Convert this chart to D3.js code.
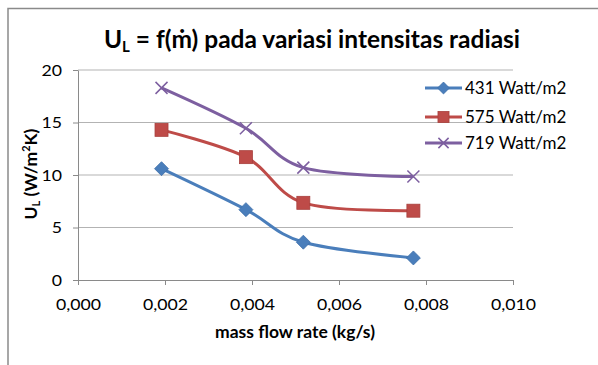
<!DOCTYPE html>
<html><head><meta charset="utf-8">
<script src="https://cdn.jsdelivr.net/npm/d3@7"></script>
<style>body{margin:0;background:#fff}svg{display:block}</style>
</head><body>
<svg id="c" width="598" height="365"></svg>
<script>
const massFlow = [0.00192, 0.00386, 0.00518, 0.00771];
const series431 = [10.6, 6.7, 3.6, 2.1];
const series575 = [14.3, 11.7, 7.35, 6.6];
const series719 = [18.3, 14.45, 10.7, 9.85];
const seriesNames = ["431 Watt/m2", "575 Watt/m2", "719 Watt/m2"];
const xTicks = [0, 0.002, 0.004, 0.006, 0.008, 0.010];
const yTicks = [0, 5, 10, 15, 20];

(function () {
const svg = d3.select("#c");
const F = "Lato, 'Open Sans', sans-serif";
const pL = 78, pR = 513, pT = 70, pB = 280;
const x = d3.scaleLinear().domain([0, 0.010]).range([pL, pR]);
const y = d3.scaleLinear().domain([0, 20]).range([pB, pT]);

function stretch(sel, f) {
  sel.each(function () {
    const n = this.getComputedTextLength();
    this.setAttribute("textLength", n * f);
    this.setAttribute("lengthAdjust", "spacingAndGlyphs");
  });
}

// frame
svg.append("path").attr("d", "M8,365 V8.5 H598").attr("fill", "none").attr("stroke", "#8a8a8a").attr("stroke-width", 1.5);

// gridlines
svg.append("g").selectAll("line").data(yTicks.filter(d => d > 0)).join("line")
  .attr("x1", pL).attr("x2", pR).attr("y1", d => y(d)).attr("y2", d => y(d))
  .attr("stroke", "#b3b3b3").attr("stroke-width", 1);

// axes
const fmt = d => d3.format(".3f")(d).replace(".", ",");
const xAxis = svg.append("g").attr("transform", `translate(0,${pB})`)
  .call(d3.axisBottom(x).tickValues(xTicks).tickFormat(fmt).tickSize(5).tickSizeOuter(0));
const yAxis = svg.append("g").attr("transform", `translate(${pL},0)`)
  .call(d3.axisLeft(y).tickValues(yTicks).tickSize(5).tickSizeOuter(0));
[xAxis, yAxis].forEach(a => {
  a.select(".domain").attr("stroke", "#8a8a8a");
  a.selectAll(".tick line").attr("stroke", "#8a8a8a");
  a.selectAll("text").attr("font-family", F).attr("font-size", 15).attr("fill", "#000");
});
xAxis.selectAll("text").attr("dy", null).attr("y", 30);
yAxis.selectAll("text").attr("x", -16).attr("dy", "0.36em");
stretch(xAxis.selectAll("text"), 1.18);
stretch(yAxis.selectAll("text"), 1.18);

// series
const colors = ["#4a7ebb", "#be4b48", "#7d5fa0"];
const all = [series431, series575, series719];
const line = d3.line().x(d => x(d[0])).y(d => y(d[1])).curve(d3.curveCatmullRom.alpha(0));

function drawMarker(g, i, cx, cy, sc) {
  if (i === 0) {
    const r = 7 * sc;
    g.append("path").attr("d", `M${cx},${cy - r}L${cx + r},${cy}L${cx},${cy + r}L${cx - r},${cy}Z`)
      .attr("fill", colors[0]).attr("stroke", "#3d6fa8").attr("stroke-width", 0.8);
  } else if (i === 1) {
    const h = 6.5 * sc;
    g.append("rect").attr("x", cx - h).attr("y", cy - h).attr("width", 2 * h).attr("height", 2 * h)
      .attr("fill", colors[1]).attr("stroke", "#a8403d").attr("stroke-width", 0.8);
  } else {
    const h = 6 * sc;
    g.append("path").attr("d", `M${cx - h},${cy - h}L${cx + h},${cy + h}M${cx - h},${cy + h}L${cx + h},${cy - h}`)
      .attr("stroke", colors[2]).attr("stroke-width", 1.5);
  }
}

all.forEach((s, i) => {
  const pts = massFlow.map((m, j) => [m, s[j]]);
  svg.append("path").attr("d", line(pts)).attr("fill", "none")
    .attr("stroke", colors[i]).attr("stroke-width", 3);
  const g = svg.append("g");
  pts.forEach(p => drawMarker(g, i, x(p[0]), y(p[1]), 1));
});

// legend
const lg = svg.append("g");
const legY = [88, 117, 143];
seriesNames.forEach((n, i) => {
  lg.append("line").attr("x1", 425).attr("x2", 462).attr("y1", legY[i]).attr("y2", legY[i])
    .attr("stroke", colors[i]).attr("stroke-width", 3);
  drawMarker(lg, i, 443.5, legY[i], 0.85);
  const tx = lg.append("text").attr("x", 465).attr("y", legY[i] + 6)
    .attr("font-family", F).attr("font-size", 16.5).text(n);
  stretch(tx, 1.03);
});

// titles
const t = svg.append("text").attr("x", 312).attr("y", 48).attr("text-anchor", "middle")
  .attr("font-family", F).attr("font-weight", "bold").attr("font-size", 24.5);
t.append("tspan").text("U");
t.append("tspan").attr("font-size", 15).attr("dy", 4).text("L");
t.append("tspan").attr("dy", -4).text(" = f(ṁ) pada variasi intensitas radiasi");

svg.append("text").attr("x", 295).attr("y", 338).attr("text-anchor", "middle")
  .attr("font-family", F).attr("font-weight", "bold").attr("font-size", 17.5).text("mass flow rate (kg/s)");

const yt = svg.append("text").attr("transform", "translate(37,174) rotate(-90)").attr("text-anchor", "middle")
  .attr("font-family", F).attr("font-weight", "bold").attr("font-size", 17.5);
yt.append("tspan").text("U");
yt.append("tspan").attr("font-size", 11).attr("dy", 3).text("L");
yt.append("tspan").attr("dy", -3).text(" (W/m");
yt.append("tspan").attr("font-size", 11).attr("dy", -7).text("2");
yt.append("tspan").attr("dy", 7).text("K)");
})();
</script>
</body></html>
